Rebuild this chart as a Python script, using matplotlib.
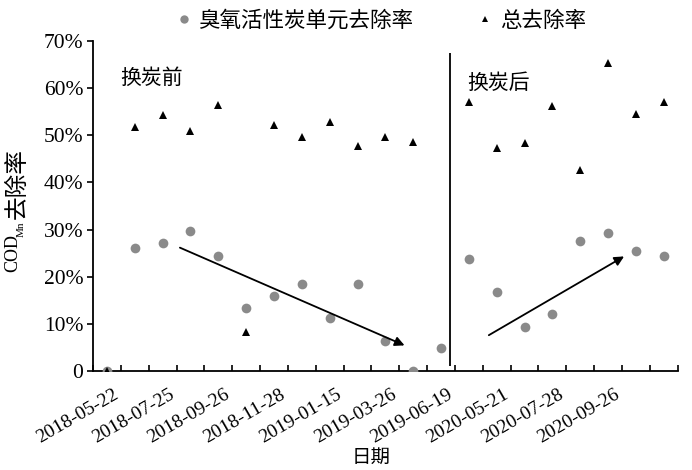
import numpy as np
import matplotlib
matplotlib.use('Agg')
import matplotlib.pyplot as plt
from matplotlib.lines import Line2D
from matplotlib.ticker import FixedLocator, FuncFormatter
from matplotlib.transforms import ScaledTranslation

plt.rcParams['font.family'] = ['Liberation Serif', 'Noto Sans CJK SC']
CJK = ['Noto Sans CJK SC', 'DejaVu Sans']

# 21 sampling events (category axis), labels every second event
tick_labels = ['2018-05-22', '2018-07-25', '2018-09-26', '2018-11-28', '2019-01-15',
               '2019-03-26', '2019-06-19', '2020-05-21', '2020-07-28', '2020-09-26']
# COD_Mn removal, %
ozone_gac = [0, 26.0, 27.1, 29.8, 24.3, 13.4, 16.0, 18.4, 11.3, 18.5, 6.4, 0, 4.9,
             23.7, 16.8, 9.4, 12.1, 27.6, 29.3, 25.5, 24.4]
total = [0, 51.7, 54.3, 51.0, 56.4, 8.3, 52.2, 49.7, 52.9, 47.7, 49.6, 48.6, np.nan,
         57.1, 47.2, 48.3, 56.3, 42.6, 65.4, 54.5, 57.1]
# trend arrows (start, end) in (event index, %)
arrow_before = ((2.53, 26.4), (10.78, 5.2))
arrow_after = ((13.63, 7.3), (18.66, 24.6))
split_x = 12.32

x = np.arange(len(ozone_gac))

fig = plt.figure(figsize=(6.92, 4.70), dpi=100)
ax = fig.add_axes([93/692, 1 - 371/470, (677.7 - 93)/692, (371 - 41)/470])

ax.plot(x, ozone_gac, 'o', color='#8a8a8a', markersize=7, markeredgewidth=0, zorder=3)
ax.plot(x, total, '^', color='black', markersize=6, markeredgewidth=0, zorder=4)

ax.annotate('', xy=arrow_before[1], xytext=arrow_before[0],
            arrowprops=dict(arrowstyle='-|>', color='black', lw=1.3, mutation_scale=14))
ax.annotate('', xy=arrow_after[1], xytext=arrow_after[0],
            arrowprops=dict(arrowstyle='-|>', color='black', lw=1.3, mutation_scale=14))
ax.vlines(split_x, 1.0, 67.5, color='black', lw=1.3)

ax.text(0.47, 62.2, '换炭前', family=CJK, fontsize=15, va='center', ha='left')
ax.text(12.94, 61.2, '换炭后', family=CJK, fontsize=15, va='center', ha='left')

ax.set_xlim(-0.5, len(x) - 0.5)
ax.set_ylim(0, 70)
ax.spines['top'].set_visible(False)
ax.spines['right'].set_visible(False)
for s in ['left', 'bottom']:
    ax.spines[s].set_linewidth(1.3)

ax.set_yticks(np.arange(0, 71, 10))
ax.yaxis.set_major_formatter(FuncFormatter(lambda v, p: '0' if v == 0 else f'{v:.0f}%'))
ax.tick_params(axis='y', direction='out', length=4, width=1.2, labelsize=15.5, pad=3)

ax.set_xticks(x[:2 * len(tick_labels):2])
ax.set_xticklabels(tick_labels, rotation=30, ha='right', va='top', rotation_mode='anchor')
ax.xaxis.set_minor_locator(FixedLocator(np.arange(-0.5, len(x), 1)))
ax.tick_params(axis='x', which='major', length=0, labelsize=14, pad=11)
ax.tick_params(axis='x', which='minor', direction='in', length=4, width=1.2)
for lbl in ax.get_xticklabels():
    lbl.set_transform(lbl.get_transform() + ScaledTranslation(6/100, 0, fig.dpi_scale_trans))

# y label: COD_Mn去除率 (pieces stacked vertically)
fig.text(13/692, 1 - 253/470, 'COD', rotation=90, fontsize=13, ha='center', va='center')
fig.text(21/692, 1 - 229/470, 'Mn', rotation=90, fontsize=8, ha='center', va='center')
fig.text(17/692, 1 - 184/470, '去除率', rotation=90, family=CJK, fontsize=17,
         ha='center', va='center')
fig.text(371/692, 1 - 457/470, '日期', family=CJK, fontsize=14, ha='center', va='center')

handles = [Line2D([], [], ls='none', marker='o', color='#8a8a8a', markersize=6, markeredgewidth=0),
           Line2D([], [], ls='none', marker='^', color='black', markersize=5, markeredgewidth=0)]
fig.legend(handles, ['臭氧活性炭单元去除率', '总去除率'], loc='center', ncol=2,
           bbox_to_anchor=(382/692, 1 - 21/470), frameon=False,
           prop={'family': CJK, 'size': 15.5}, handlelength=0.6, handletextpad=0.4,
           columnspacing=3.0, borderpad=0)

fig.savefig('out.png', dpi=100)
